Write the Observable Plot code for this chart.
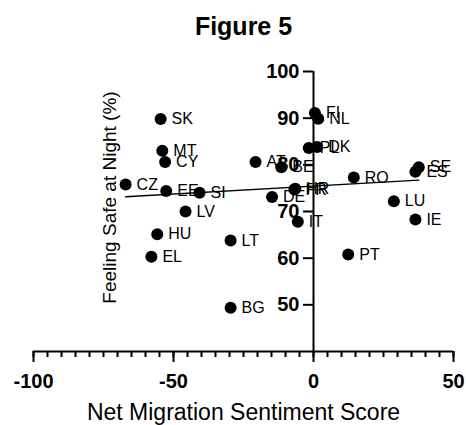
<!DOCTYPE html>
<html><head><meta charset="utf-8">
<script src="https://cdn.jsdelivr.net/npm/d3@7"></script>
<script src="https://cdn.jsdelivr.net/npm/@observablehq/plot@0.6"></script>
<style>body{margin:0;background:#fff}</style>
</head><body><div id="chart"></div>
<script>
const countries = ["SK","MT","CY","CZ","EE","SI","AT","LV","DE","BE","FI","NL","PL","DK","RO","SE","ES","LU","IE","FR","HR","IT","PT","HU","EL","LT","BG"];
const migrationScore = [-54.6,-54,-53,-67.1,-52.6,-40.7,-20.7,-45.7,-14.8,-11.5,0.5,1.7,-1.7,1.3,14.4,37.6,36.4,28.7,36.4,-6.8,-6.5,-5.6,12.4,-55.8,-57.9,-29.6,-29.6];
const feelingSafe = [89.8,83.0,80.6,75.8,74.4,74.0,80.6,70.0,73.1,79.5,91.1,89.9,83.6,83.8,77.3,79.5,78.5,72.2,68.3,74.7,74.9,67.8,60.8,65.1,60.3,63.8,49.4];
const xTicks = [-100,-50,0,50];
const xMinorTicks = d3.range(-100, 51, 5);
const yTicks = [50,60,70,80,90,100];

const data = countries.map((c, i) => ({country: c, x: migrationScore[i], y: feelingSafe[i]}));
const font = "'Liberation Sans', Arial, sans-serif";

const chart = Plot.plot({
  width: 466,
  height: 425,
  marginTop: 71,
  marginBottom: 74,
  marginLeft: 33,
  marginRight: 13,
  style: {fontFamily: font, color: "black", background: "white"},
  x: {domain: [-100, 50]},
  y: {domain: [40, 100]},
  marks: [
    Plot.axisX(xMinorTicks, {tickSize: 6, strokeWidth: 2, tickFormat: () => "", label: null}),
    Plot.axisX(xTicks, {tickSize: 11, tickPadding: 11, strokeWidth: 2, fontSize: 20, fontWeight: "bold", label: null, tickFormat: d => String(d)}),
    Plot.axisY(yTicks, {x: 0, anchor: "left", tickSize: 10, tickPadding: 4, strokeWidth: 2, fontSize: 20, fontWeight: "bold", label: null, tickFormat: d => String(d)}),
    Plot.ruleY([40], {x1: -100, x2: 50, strokeWidth: 2}),
    Plot.ruleX([0], {y1: 40, y2: 100, strokeWidth: 2}),
    Plot.linearRegressionY(data, {x: "x", y: "y", ci: 0, stroke: "black", strokeWidth: 1.3}),
    Plot.text(data, {x: "x", y: "y", text: "country", dx: 11, textAnchor: "start", fontSize: 16, fill: "black"}),
    Plot.dot(data, {x: "x", y: "y", r: 6, fill: "black", stroke: "none"}),
    Plot.text(["Figure 5"], {frameAnchor: "top", dy: -45, fontSize: 25, fontWeight: "bold", lineAnchor: "middle"}),
    Plot.text(["Feeling Safe at Night (%)"], {frameAnchor: "left", textAnchor: "middle", rotate: -90, dx: 76, dy: -14, fontSize: 19, lineAnchor: "middle"}),
    Plot.text(["Net Migration Sentiment Score"], {frameAnchor: "bottom", dy: 61, fontSize: 23, lineAnchor: "middle"})
  ]
});
document.getElementById("chart").appendChild(chart);
</script>
</body></html>
